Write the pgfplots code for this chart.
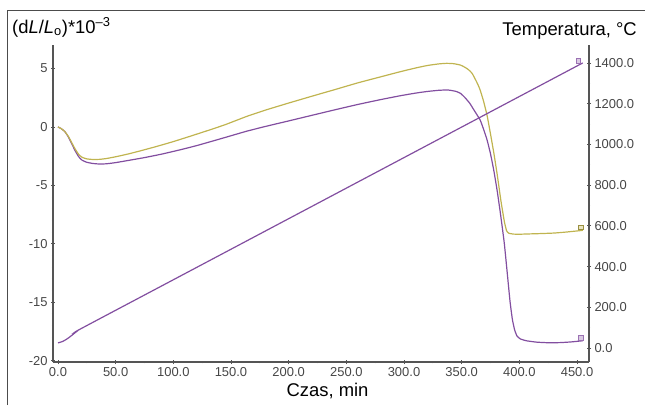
\documentclass[border=0pt]{standalone}
\usepackage{fontspec}
\setmainfont{Liberation Sans}
\usepackage{pgfplots}
\pgfplotsset{compat=1.18}
\definecolor{cyel}{RGB}{192,180,80}
\definecolor{cpur}{RGB}{130,78,160}
\definecolor{axgray}{RGB}{85,85,85}
\definecolor{tickgray}{RGB}{70,70,70}

\pgfplotsset{
  myax/.style={
    at={(53bp,43bp)}, anchor=south west, scale only axis,
    width=536bp, height=317bp,
    xmin=-4.3, xmax=460.4,
    tick align=outside,
    major tick length=4bp, minor tick length=2.5bp,
    tick style={draw=axgray, line width=0.8bp},
    ticklabel style={font=\fontsize{13}{15}\selectfont, text=tickgray},
    clip=false,
  },
  noarrows/.style={
    axis line style={-, draw=axgray, line width=1.2bp},
    every outer x axis line/.append style={-},
    every outer y axis line/.append style={-},
    every inner x axis line/.append style={-},
    every inner y axis line/.append style={-},
  }
}

\begin{document}
\begin{tikzpicture}[x=1bp,y=1bp]
\path[use as bounding box] (0,0) rectangle (645,405);
\draw[gray!60!black, line width=0.9bp] (7,0) -- (7,395) -- (645,395);

\begin{axis}[myax,
  ymin=-20.12, ymax=7.02,
  axis x line=bottom, axis y line=left,
  noarrows,
  xtick={0,50,...,450},
  xticklabels={0.0,50.0,100.0,150.0,200.0,250.0,300.0,350.0,400.0,450.0},
  minor x tick num=1,
  ytick={-20,-15,-10,-5,0,5},
  yticklabels={-20,-15,-10,-5,0,5},
  minor y tick num=4,
]
% purple dilatometric curve
\addplot[cpur, line width=1.2bp, smooth, tension=0.3] coordinates {
(0,0) (3,-0.15) (6,-0.4) (9,-0.85) (12,-1.45) (15,-2.05) (18,-2.55) (21,-2.85)
(25,-3.02) (30,-3.12) (36,-3.17) (42,-3.15) (50,-3.05) (60,-2.88) (75,-2.62)
(90,-2.32) (106,-1.95) (120,-1.6) (135,-1.18) (150,-0.75) (164,-0.35) (180,0.05)
(200,0.52) (221,1.02) (240,1.47) (260,1.93) (280,2.35) (297,2.68) (310,2.9)
(320,3.04) (330,3.14) (338,3.17) (345,3.05) (349,2.88) (353,2.5) (357,2.03)
(361,1.4) (366,0.6) (369,-0.2) (372,-1.1) (375,-2.3) (378,-3.8) (381,-5.6)
(384,-7.7) (387,-10.0) (390,-13.0) (392,-15.0) (394,-16.5) (396,-17.4)
(398,-17.9) (401,-18.15) (406,-18.3) (415,-18.42) (425,-18.47) (435,-18.46)
(445,-18.4) (455,-18.3)
};
% yellow dilatometric curve
\addplot[cyel, line width=1.2bp, smooth, tension=0.3] coordinates {
(0,0) (3,-0.15) (6,-0.4) (9,-0.8) (12,-1.35) (15,-1.9) (18,-2.35) (21,-2.6)
(25,-2.73) (30,-2.78) (36,-2.77) (42,-2.7) (50,-2.55) (60,-2.33) (70,-2.08)
(85,-1.68) (100,-1.25) (115,-0.78) (130,-0.3) (145,0.2) (164,0.92)
(180,1.45) (200,2.05) (221,2.66) (240,3.2) (260,3.78) (280,4.3) (297,4.74)
(310,5.05) (320,5.26) (330,5.4) (337,5.45) (343,5.42) (349,5.3) (353,5.1)
(356,4.9) (359,4.6) (362,4.05) (364,3.65) (366,3.17) (369,2.2) (372,1.0)
(375,-0.6) (378,-2.3) (381,-4.2) (384,-6.3) (387,-8.1) (389,-8.9) (391,-9.1)
(395,-9.17) (400,-9.18) (410,-9.15) (420,-9.12) (430,-9.08) (440,-9.0)
(450,-8.9) (455,-8.85)
};
\addplot[only marks, mark=square*, mark size=2.3bp, mark options={fill=cyel!35, draw=cyel!80!black, line width=0.5bp}] coordinates {(453,-8.6)};
\addplot[only marks, mark=square*, mark size=2.3bp, mark options={fill=cpur!30, draw=cpur!80, line width=0.5bp}] coordinates {(453,-18.05)};
\end{axis}

\begin{axis}[myax,
  ymin=-68.8, ymax=1488,
  axis x line=none, axis y line=right,
  noarrows,
  ytick={0,200,...,1400},
  yticklabels={0.0,200.0,400.0,600.0,800.0,1000.0,1200.0,1400.0},
  minor y tick num=1,
]
\addplot[cpur, line width=1.2bp, smooth, tension=0.4] coordinates {
(0,25) (4,32) (8,45) (12,62) (16,80) (20,95) (100,335) (200,635) (300,935) (400,1235) (455,1400)
};
\addplot[only marks, mark=square*, mark size=2.3bp, mark options={fill=cpur!30, draw=cpur!80, line width=0.5bp}] coordinates {(451,1412)};
\end{axis}

\node[anchor=base west, font=\fontsize{18.5}{22}\selectfont, inner sep=0pt] at (12,372) {(d\textit{L}/\textit{L}\textsubscript{o})*10\textsuperscript{\textendash3}};
\node[anchor=base east, font=\fontsize{18.5}{22}\selectfont, inner sep=0pt] at (637,370) {Temperatura, °C};
\node[anchor=base, font=\fontsize{18.5}{22}\selectfont, inner sep=0pt] at (327.5,9) {Czas, min};
\end{tikzpicture}
\end{document}
